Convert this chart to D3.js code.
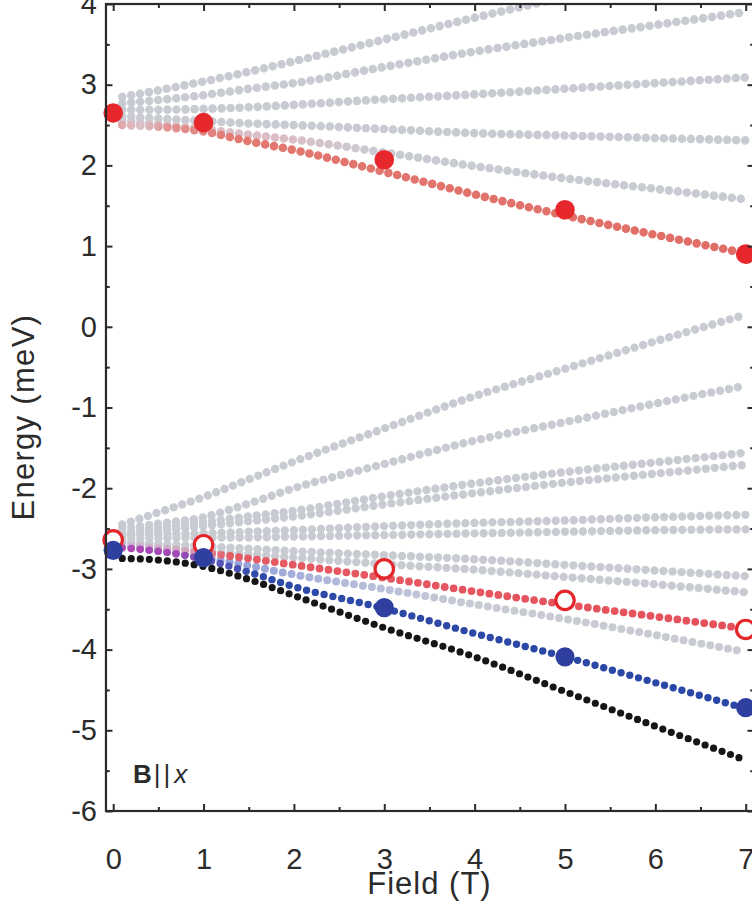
<!DOCTYPE html>
<html>
<head>
<meta charset="utf-8">
<script src="https://cdn.jsdelivr.net/npm/d3@7"></script>
<style>
  html, body { margin: 0; padding: 0; background: #fff; }
  svg { display: block; }
  text { font-family: "Liberation Sans", Arial, Helvetica, sans-serif; fill: #2b2b2b; }
</style>
</head>
<body>
<svg id="chart" width="752" height="902"></svg>
<script>
// Field values (T) at which each calculated level is sampled
const fields = [0.1, 0.5, 1, 1.5, 2, 3, 4, 5, 6, 7];

// Upper manifold levels (meV)
const upper0 = [2.85, 2.93, 3.04, 3.16, 3.29, 3.56, 3.83, 4.09, 4.36, 4.62];
const upper1 = [2.77, 2.81, 2.87, 2.95, 3.02, 3.22, 3.41, 3.58, 3.74, 3.90];
const upper2 = [2.69, 2.69, 2.70, 2.72, 2.75, 2.82, 2.88, 2.95, 3.02, 3.09];
const upper3 = [2.61, 2.58, 2.55, 2.52, 2.50, 2.45, 2.40, 2.37, 2.34, 2.31];
const upper4 = [2.55, 2.51, 2.45, 2.38, 2.32, 2.16, 1.99, 1.84, 1.71, 1.58];
const upperRed = [2.50, 2.48, 2.42, 2.30, 2.19, 1.92, 1.64, 1.38, 1.14, 0.91];

// Lower manifold levels (meV)
const lowerA = [-2.45, -2.30, -2.11, -1.89, -1.67, -1.26, -0.86, -0.52, -0.18, 0.15];
const lowerB = [-2.50, -2.44, -2.36, -2.19, -2.00, -1.70, -1.41, -1.18, -0.95, -0.73];
const lowerC = [-2.55, -2.49, -2.42, -2.35, -2.28, -2.10, -1.94, -1.80, -1.68, -1.56];
const lowerD = [-2.58, -2.53, -2.47, -2.41, -2.35, -2.20, -2.06, -1.93, -1.82, -1.71];
const lowerE = [-2.58, -2.57, -2.56, -2.54, -2.52, -2.47, -2.43, -2.40, -2.36, -2.33];
const lowerF = [-2.62, -2.62, -2.61, -2.61, -2.60, -2.58, -2.56, -2.54, -2.52, -2.51];
const lowerG = [-2.66, -2.69, -2.72, -2.75, -2.78, -2.83, -2.88, -2.95, -3.02, -3.09];
const lowerH = [-2.68, -2.73, -2.78, -2.82, -2.86, -2.94, -3.01, -3.10, -3.19, -3.29];
const lowerRed = [-2.70, -2.74, -2.80, -2.87, -2.95, -3.11, -3.28, -3.44, -3.59, -3.74];
const lowerPale = [-2.72, -2.78, -2.86, -2.96, -3.07, -3.25, -3.44, -3.62, -3.82, -4.03];
const lowerBlue = [-2.74, -2.78, -2.88, -3.04, -3.22, -3.49, -3.80, -4.09, -4.41, -4.73];
const lowerBlack = [-2.87, -2.89, -2.97, -3.13, -3.33, -3.73, -4.09, -4.52, -4.95, -5.37];

// Measured transitions (meV)
const markerFields = [0, 1, 3, 5, 7];
const redFilled = [2.65, 2.53, 2.07, 1.45, 0.90];
const redOpen = [-2.64, -2.70, -3.00, -3.39, -3.75];
const blueFilled = [-2.77, -2.86, -3.48, -4.09, -4.72];

// Axis ticks
const xTicks = [0, 1, 2, 3, 4, 5, 6, 7];
const xMinor = [0.5, 1.5, 2.5, 3.5, 4.5, 5.5, 6.5];
const yTicks = [-6, -5, -4, -3, -2, -1, 0, 1, 2, 3, 4];
const yMinor = [-5.5, -4.5, -3.5, -2.5, -1.5, -0.5, 0.5, 1.5, 2.5, 3.5];

const svg = d3.select("#chart");

const x = d3.scaleLinear().domain([0, 7]).range([113.2, 745.7]);
const y = d3.scaleLinear().domain([-6, 4]).range([811, 4]);

const frameLeft = x(-0.08), frameRight = x(7.092);
const frameTop = y(4), frameBottom = y(-6);
const dotGap = x(0.1) - x(0);

const defs = svg.append("defs");
defs.append("clipPath").attr("id", "plotClip")
  .append("rect")
  .attr("x", frameLeft).attr("y", frameTop)
  .attr("width", frameRight - frameLeft).attr("height", frameBottom - frameTop);

// Colour ramps along the field axis for the mixed levels
function ramp(id, stops) {
  const g = defs.append("linearGradient").attr("id", id)
    .attr("gradientUnits", "userSpaceOnUse")
    .attr("x1", x(0)).attr("x2", x(7)).attr("y1", 0).attr("y2", 0);
  stops.forEach(([f, c]) => g.append("stop").attr("offset", f / 7).attr("stop-color", c));
  return `url(#${id})`;
}

const gray = "#c9cbd3";
const upperRedInk = ramp("gUpperRed", [[0, "#e49c9c"], [0.3, "#d9c2c8"], [0.6, "#e29494"], [1.4, "#e27870"], [7, "#e06d66"]]);
const upper4Ink = ramp("gUpper4", [[0, gray], [0.8, "#dcc4ca"], [1.8, "#dcbcc4"], [3, gray], [7, gray]]);
const lowerRedInk = ramp("gLowerRed", [[0, "#c6bedb"], [0.8, "#d4a6bd"], [1.3, "#e55a64"], [7, "#e5515a"]]);
const lowerPaleInk = ramp("gLowerPale", [[0, "#8f97d6"], [1.5, "#98a3da"], [2.5, "#b2badb"], [4, gray], [7, gray]]);
const lowerBlueInk = ramp("gLowerBlue", [[0, "#b546b6"], [0.7, "#a448b4"], [1.1, "#5a56bd"], [1.6, "#2f4aa8"], [7, "#2a46a6"]]);

const levels = [
  { v: upper0, ink: gray, w: 8.6 },
  { v: upper1, ink: gray, w: 8.6 },
  { v: upper2, ink: gray, w: 8.6 },
  { v: upper3, ink: gray, w: 8.6 },
  { v: upper4, ink: upper4Ink, w: 8.6 },
  { v: lowerA, ink: gray, w: 8.4 },
  { v: lowerB, ink: gray, w: 8.4 },
  { v: lowerC, ink: gray, w: 8.4 },
  { v: lowerD, ink: gray, w: 8.4 },
  { v: lowerE, ink: gray, w: 8.4 },
  { v: lowerF, ink: gray, w: 8.4 },
  { v: lowerG, ink: gray, w: 8.4 },
  { v: lowerH, ink: gray, w: 8.4 },
  { v: lowerPale, ink: lowerPaleInk, w: 8.0 },
  { v: upperRed, ink: upperRedInk, w: 8.6 },
  { v: lowerRed, ink: lowerRedInk, w: 7.8 },
  { v: lowerBlue, ink: lowerBlueInk, w: 7.4 },
  { v: lowerBlack, ink: "#161616", w: 7.2 }
];

const line = d3.line()
  .x(d => x(d[0]))
  .y(d => y(d[1]))
  .curve(d3.curveMonotoneX);

const plot = svg.append("g").attr("clip-path", "url(#plotClip)");

plot.selectAll("path.level")
  .data(levels)
  .join("path")
  .attr("class", "level")
  .attr("d", d => line(fields.map((f, i) => [f, d.v[i]])))
  .attr("fill", "none")
  .attr("stroke", d => d.ink)
  .attr("stroke-width", d => d.w)
  .attr("stroke-linecap", "round")
  .attr("stroke-dasharray", `0 ${dotGap}`);

// Measured points
const marks = svg.append("g");
marks.selectAll("circle.ro")
  .data(markerFields.map((f, i) => [f, redOpen[i]]))
  .join("circle")
  .attr("cx", d => x(d[0])).attr("cy", d => y(d[1])).attr("r", 9.2)
  .attr("fill", "#fff").attr("stroke", "#e4262b").attr("stroke-width", 3.2);
marks.selectAll("circle.bf")
  .data(markerFields.map((f, i) => [f, blueFilled[i]]))
  .join("circle")
  .attr("cx", d => x(d[0])).attr("cy", d => y(d[1])).attr("r", 9.6)
  .attr("fill", "#2e3f9f");
marks.selectAll("circle.rf")
  .data(markerFields.map((f, i) => [f, redFilled[i]]))
  .join("circle")
  .attr("cx", d => x(d[0])).attr("cy", d => y(d[1])).attr("r", 9.8)
  .attr("fill", "#e6272c");

// Frame
const ink = "#2b2b2b";
svg.append("rect")
  .attr("x", frameLeft).attr("y", frameTop)
  .attr("width", frameRight - frameLeft).attr("height", frameBottom - frameTop)
  .attr("fill", "none").attr("stroke", ink).attr("stroke-width", 2.2);

const plain = d => String(d);

function styleAxis(g) {
  g.select(".domain").remove();
  g.selectAll(".tick line").attr("stroke", ink).attr("stroke-width", 2);
  g.selectAll(".tick text").attr("fill", ink).style("font-size", "29px")
    .style("font-family", '"Liberation Sans", Arial, Helvetica, sans-serif');
}

// Left axis with labels
svg.append("g").attr("transform", `translate(${frameLeft},0)`)
  .call(d3.axisLeft(y).tickValues(yTicks).tickSize(-6.5).tickPadding(9).tickFormat(plain))
  .call(styleAxis);
svg.append("g").attr("transform", `translate(${frameLeft},0)`)
  .call(d3.axisLeft(y).tickValues(yMinor).tickSize(-3.8).tickFormat(""))
  .call(styleAxis);

// Right axis, ticks only
svg.append("g").attr("transform", `translate(${frameRight},0)`)
  .call(d3.axisRight(y).tickValues(yTicks).tickSize(-6.5).tickFormat(""))
  .call(styleAxis);
svg.append("g").attr("transform", `translate(${frameRight},0)`)
  .call(d3.axisRight(y).tickValues(yMinor).tickSize(-3.8).tickFormat(""))
  .call(styleAxis);

// Bottom axis with labels
svg.append("g").attr("transform", `translate(0,${frameBottom})`)
  .call(d3.axisBottom(x).tickValues(xTicks).tickSize(-7).tickPadding(37).tickFormat(plain))
  .call(styleAxis);
svg.append("g").attr("transform", `translate(0,${frameBottom})`)
  .call(d3.axisBottom(x).tickValues(xMinor).tickSize(-4).tickFormat(""))
  .call(styleAxis);

// Top axis, ticks only
svg.append("g").attr("transform", `translate(0,${frameTop})`)
  .call(d3.axisTop(x).tickValues(xTicks).tickSize(-7).tickFormat(""))
  .call(styleAxis);
svg.append("g").attr("transform", `translate(0,${frameTop})`)
  .call(d3.axisTop(x).tickValues(xMinor).tickSize(-4).tickFormat(""))
  .call(styleAxis);

// Axis titles
svg.append("text")
  .attr("x", (x(0) + x(7)) / 2).attr("y", 894)
  .attr("text-anchor", "middle").style("font-size", "31px").style("letter-spacing", "1px")
  .text("Field (T)");

svg.append("text")
  .attr("transform", `translate(34,${y(-1.12)}) rotate(-90)`)
  .attr("text-anchor", "middle").style("font-size", "31px").style("letter-spacing", "1.3px")
  .text("Energy (meV)");

// Field orientation label
const lab = svg.append("text").attr("x", 133).attr("y", 783).style("font-size", "26px");
lab.append("tspan").style("font-weight", "bold").text("B");
lab.append("tspan").attr("dx", 2).style("letter-spacing", "3px").text("||");
lab.append("tspan").attr("dx", 1).style("font-style", "italic").text("x");
</script>
</body>
</html>
